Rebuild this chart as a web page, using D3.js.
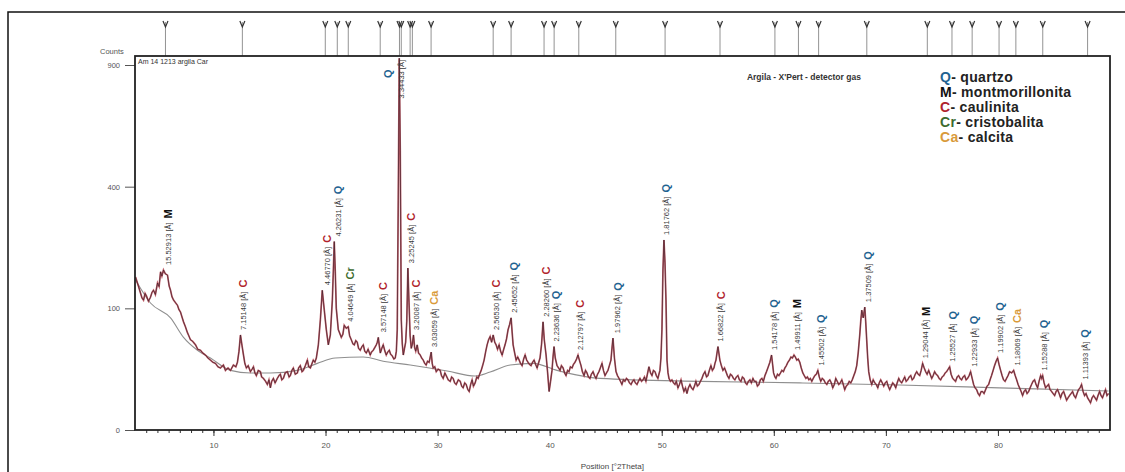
<!DOCTYPE html>
<html>
<head>
<meta charset="utf-8">
<script src="https://cdn.jsdelivr.net/npm/d3@7"></script>
<style>
  body { margin: 0; background: #fff; }
  text { font-family: "Liberation Sans", Arial, sans-serif; }
</style>
</head>
<body>
<div id="xrd"></div>
<script>
// measured scan, [position 2theta, counts]
const scan = [
  [3.05,158],[3.30,140],[3.49,127],[3.62,118],[3.76,114],[3.90,126],[4.03,121],[4.20,112],[4.38,119],[4.52,128],[4.65,132],[4.82,124],[5.01,146],[5.15,139],[5.28,169],[5.40,160],[5.54,173],[5.70,165],[5.90,162],[6.05,140],[6.17,132],[6.30,120],[6.44,114],[6.60,110],[6.79,105],[6.92,98],[7.06,94],[7.20,86],[7.33,79],[7.50,72],[7.68,64],[7.80,60],[7.95,55],[8.15,53],[8.40,49],[8.60,44],[8.84,43],[9.05,40],[9.29,38],[9.50,35],[9.73,33],[9.95,31],
  [10.18,30],[10.40,27],[10.62,26],[10.89,28.5],[11.07,24],[11.30,26],[11.52,24],[11.78,28.5],[12.00,27],[12.14,31],[12.28,42],[12.41,61],[12.55,48],[12.68,38],[12.80,30],[12.94,26],[13.10,28],[13.30,23],[13.45,25],[13.57,27],[13.70,22],[13.83,20],[14.00,24],[14.19,23],[14.30,19],[14.46,18],[14.65,16],[14.81,14],[14.95,17],[15.08,12],[15.20,16],[15.35,18],[15.50,15],[15.70,18],[15.85,20],[15.97,21],[16.10,17],[16.24,18],[16.40,22],[16.60,23],[16.75,19],[16.86,20],[17.00,24],[17.13,26],[17.30,21],[17.49,22],[17.60,26],[17.75,28],[17.90,23],[18.02,24],[18.20,28],[18.38,33],[18.50,27],[18.65,26],[18.80,30],[18.91,33],[19.05,31],[19.18,35],[19.36,49],[19.54,82],[19.71,132],[19.89,97],
  [20.07,68],[20.25,49],[20.43,61],[20.61,114],[20.70,173],[20.78,240],[20.87,170],[20.96,100],[21.14,68],[21.41,58],[21.55,62],[21.67,74],[21.85,70],[22.03,72],[22.15,60],[22.30,55],[22.45,50],[22.57,49],[22.70,54],[22.83,52],[22.95,45],[23.10,43],[23.25,47],[23.37,49],[23.50,42],[23.64,40],[23.80,44],[23.99,38],[24.10,41],[24.26,43],[24.40,46],[24.53,49],[24.62,52],[24.71,58],[24.80,48],[24.89,40],[25.02,45],[25.15,49],[25.30,42],[25.42,38],[25.55,41],[25.69,43],[25.80,39],[25.96,37],[26.10,34],[26.22,35],[26.32,42],[26.40,68],[26.49,357],[26.58,934],[26.67,529],[26.76,82],[26.85,50],[26.94,38],[27.05,45],[27.15,52],[27.25,80],[27.35,177],[27.45,110],[27.55,60],[27.65,45],[27.75,50],[27.85,61],[27.95,46],[28.05,42],[28.18,49],[28.30,40],[28.45,38],[28.58,35],[28.72,33],[28.85,30],[28.98,28.5],[29.10,32],[29.25,31],[29.43,41],[29.52,30],[29.61,26],[29.75,27],[29.88,23],
  [30.05,25],[30.23,24],[30.35,20],[30.50,18],[30.65,22],[30.77,20],[30.95,17],[31.13,16],[31.25,19],[31.39,18],[31.52,15],[31.66,14],[31.85,17],[32.02,16],[32.15,13],[32.28,12],[32.42,15],[32.55,14],[32.70,11],[32.82,10],[32.95,14],[33.08,17],[33.20,13],[33.35,15],[33.50,19],[33.62,18],[33.75,21],[33.89,24],[34.02,28],[34.15,33],[34.30,42],[34.42,49],[34.55,55],[34.69,59],[34.82,52],[34.96,61],[35.10,52],[35.22,49],[35.35,44],[35.49,49],[35.62,42],[35.76,38],[35.90,44],[36.02,49],[36.15,56],[36.29,68],[36.42,75],[36.56,85],[36.65,65],[36.74,49],[36.88,40],[37.01,33],[37.15,36],[37.28,33],[37.40,30],[37.54,28],[37.68,34],[37.81,38],[37.95,33],[38.07,31],[38.20,29],[38.34,28],[38.48,31],[38.61,33],[38.75,29],[38.88,26],[39.00,30],[39.14,35],[39.28,50],[39.41,79],[39.52,55],[39.68,38],[39.82,22],[39.95,10],
  [40.08,16],[40.21,24],[40.30,36],[40.39,47],[40.50,35],[40.66,28],[40.80,26],[40.93,24],[41.05,28],[41.20,26],[41.33,22],[41.46,20],[41.60,24],[41.73,23],[41.85,27],[42.00,26],[42.12,29],[42.26,31],[42.40,34],[42.53,38],[42.65,33],[42.80,28],[42.92,23],[43.07,20],[43.20,24],[43.33,22],[43.46,19],[43.60,18],[43.72,21],[43.87,23],[44.00,20],[44.14,18],[44.27,21],[44.40,23],[44.52,26],[44.67,30],[44.80,24],[44.94,20],[45.07,22],[45.20,24],[45.33,28],[45.47,33],[45.56,45],[45.65,57],[45.78,35],[45.92,23],[46.05,20],[46.19,18],[46.32,16],[46.45,14],[46.58,17],[46.72,16],[46.85,18],[46.99,17],[47.12,15],[47.26,14],[47.40,16],[47.52,17],[47.65,15],[47.79,14],[47.92,16],[48.06,18],[48.20,16],[48.33,17],[48.46,19],[48.59,16],[48.72,21],[48.86,27],[49.00,22],[49.13,20],[49.26,24],[49.40,23],[49.52,20],[49.66,18],[49.75,21],[49.84,24],[49.93,35],
  [50.02,68],[50.11,173],[50.20,244],[50.29,190],[50.38,114],[50.47,33],[50.56,22],[50.65,18],[50.78,16],[50.91,17],[51.05,15],[51.18,14],[51.30,16],[51.45,12],[51.58,14],[51.72,17],[51.85,13],[51.98,10],[52.12,12],[52.25,9],[52.38,12],[52.52,14],[52.65,12],[52.79,11],[52.92,13],[53.05,16],[53.18,13],[53.32,14],[53.45,16],[53.59,18],[53.72,21],[53.86,23],[54.00,19],[54.12,20],[54.25,24],[54.39,28],[54.52,24],[54.66,26],[54.75,30],[54.84,33],[54.93,40],[55.02,47],[55.10,40],[55.19,33],[55.32,28],[55.46,24],[55.60,26],[55.73,23],[55.86,20],[56.00,18],[56.13,21],[56.27,20],[56.40,18],[56.53,17],[56.66,19],[56.80,20],[56.93,17],[57.07,16],[57.20,19],[57.34,18],[57.47,15],[57.60,14],[57.74,16],[57.87,17],[58.00,15],[58.14,18],[58.27,16],[58.41,16],[58.54,13],[58.67,14],[58.80,17],[58.94,18],[59.07,16],[59.21,20],[59.35,23],[59.47,26],[59.65,31],[59.80,38],[59.98,22],
  [60.10,19],[60.19,18],[60.33,21],[60.46,20],[60.60,22],[60.72,24],[60.86,23],[60.99,26],[61.12,28],[61.26,31],[61.40,33],[61.53,36],[61.66,35],[61.80,38],[61.92,36],[62.05,33],[62.18,34],[62.32,31],[62.45,26],[62.59,22],[62.72,20],[62.86,18],[63.00,19],[63.13,17],[63.26,18],[63.39,16],[63.52,18],[63.66,20],[63.80,21],[63.93,24],[64.06,19],[64.19,16],[64.32,18],[64.46,17],[64.60,15],[64.73,14],[64.86,16],[65.00,17],[65.13,15],[65.26,12],[65.40,14],[65.53,18],[65.66,16],[65.80,14],[65.93,15],[66.07,17],[66.20,14],[66.33,11],[66.46,13],[66.60,14],[66.73,16],[66.87,15],[67.00,17],[67.14,20],[67.27,23],[67.40,28],[67.53,40],[67.67,61],[67.76,80],[67.85,97],[67.98,85],[68.12,102],[68.20,80],[68.29,55],[68.38,35],[68.47,23],[68.60,17],[68.74,14],[68.87,17],[69.01,15],[69.14,14],[69.28,12],[69.41,15],[69.54,17],[69.68,15],[69.81,13],[69.94,15],
  [70.08,16],[70.21,13],[70.34,11],[70.48,13],[70.61,15],[70.74,14],[70.88,12],[71.01,15],[71.15,18],[71.28,16],[71.41,15],[71.55,17],[71.68,19],[71.81,16],[71.95,17],[72.08,19],[72.22,20],[72.35,17],[72.48,18],[72.62,21],[72.75,23],[72.88,21],[73.02,20],[73.15,24],[73.28,30],[73.42,26],[73.55,23],[73.68,21],[73.82,24],[73.95,21],[74.09,18],[74.22,20],[74.35,23],[74.48,21],[74.62,20],[74.75,18],[74.89,17],[75.02,19],[75.16,20],[75.29,22],[75.42,23],[75.56,25],[75.69,27],[75.82,21],[75.96,18],[76.09,17],[76.22,16],[76.36,19],[76.49,20],[76.62,18],[76.76,17],[76.89,19],[77.03,20],[77.16,17],[77.29,18],[77.43,20],[77.56,23],[77.70,18],[77.83,14],[77.96,12],[78.10,11],[78.23,9],[78.36,8],[78.50,10],[78.63,10],[78.76,9],[78.90,11],[79.03,13],[79.17,14],[79.30,17],[79.43,20],[79.57,24],[79.70,28],[79.84,32],[79.97,35],
  [80.10,29],[80.24,24],[80.37,20],[80.50,17],[80.64,16],[80.77,18],[80.90,20],[81.04,23],[81.22,22],[81.40,24],[81.54,20],[81.67,17],[81.80,14],[81.93,12],[82.07,10],[82.20,8],[82.33,10],[82.47,11],[82.60,9],[82.74,10],[82.87,12],[83.00,14],[83.13,16],[83.27,17],[83.40,14],[83.54,12],[83.67,16],[83.81,20],[83.90,18],[83.99,20],[84.12,15],[84.25,12],[84.38,13],[84.52,14],[84.65,11],[84.79,10],[84.92,9],[85.06,8],[85.19,10],[85.32,11],[85.46,9],[85.59,7],[85.72,9],[85.86,10],[85.99,8],[86.13,6],[86.26,7],[86.39,8],[86.53,9],[86.66,10],[86.79,8],[86.93,7],[87.06,9],[87.19,11],[87.33,12],[87.46,14],[87.60,10],[87.73,8],[87.86,9],[88.00,7],[88.13,6],[88.26,5],[88.40,7],[88.53,8],[88.66,7],[88.80,6],[88.93,8],[89.07,10],[89.20,8],[89.33,7],[89.47,9],[89.60,11],[89.73,8],[89.87,9]
];

// fitted background, [2theta, counts]
const background = [
  [3.05,152],[4.38,109],[6.17,85],[7.33,58],[8.57,43],[9.73,35],[11.52,24],[13.30,22],[15.08,22],[17.49,24],[19.27,30],[20.87,35],[23.37,36],[25.15,32],[27.56,28.5],[30.86,23.5],[33.35,19.7],[34.69,22.7],[36.47,28.5],[38.52,30],[40.66,24],[44.49,18],[53.41,16],[62.32,15],[71.23,13.7],[80.12,12],[89.87,10.3]
];

// identified peaks: [2theta, phase, d-spacing]
const peaks = [
  [5.70,"M","15.52913"],[12.38,"C","7.15148"],[19.88,"C","4.46770"],[20.85,"Q","4.26231"],[21.95,"Cr","4.04649"],
  [24.90,"C","3.57148"],[26.64,"Q","3.34433"],[27.40,"C","3.25245"],[27.85,"C","3.20087"],[29.45,"Ca","3.03059"],
  [34.95,"C","2.56530"],[36.55,"Q","2.45652"],[39.45,"C","2.28260"],[40.30,"Q","2.23636"],[42.45,"C","2.12797"],
  [45.80,"Q","1.97962"],[50.15,"Q","1.81762"],[55.00,"C","1.66822"],[59.80,"Q","1.54178"],[61.85,"M","1.49911"],
  [63.95,"Q","1.45502"],[68.15,"Q","1.37509"],[73.30,"M","1.29044"],[75.70,"Q","1.25527"],[77.60,"Q","1.22933"],
  [79.95,"Q","1.19902"],[81.45,"Ca","1.18069"],[83.85,"Q","1.15288"],[87.50,"Q","1.11393"]
];

// reference pattern markers along the top
const refLines = [5.72,12.58,19.98,21.05,22.03,24.88,26.6,26.76,27.55,27.75,29.42,34.96,36.56,39.5,40.4,42.6,45.9,50.3,55.2,60.1,62.2,64.0,68.3,73.7,75.9,77.7,80.1,81.6,84.0,88.0];

const phaseCodes = ["Q","M","C","Cr","Ca"];
const phaseNames = ["quartzo","montmorillonita","caulinita","cristobalita","calcita"];

const xTicks = [10,20,30,40,50,60,70,80];
const yTicks = [0,100,400,900];

const phaseColor = {Q: "#1f6391", M: "#111111", C: "#b0222c", Cr: "#3d6b2e", Ca: "#d99a3a"};

const margin = {top: 56, right: 15, bottom: 42, left: 135};
const width = 1125 - margin.left - margin.right;
const height = 472 - margin.top - margin.bottom;

const svg = d3.select("#xrd")
  .append("svg")
  .attr("width", 1125)
  .attr("height", 472);

// outer frame
svg.append("path")
  .attr("d", "M8,472V12H1125")
  .attr("fill", "none")
  .attr("stroke", "#111")
  .attr("stroke-width", 1.5);

const g = svg.append("g")
  .attr("transform", "translate(" + margin.left + "," + margin.top + ")");

const x = d3.scaleLinear().domain([3, 90]).range([0, width]);
const y = d3.scaleSqrt().domain([0, 945]).range([height, 0]);

g.append("clipPath").attr("id", "plotclip")
  .append("rect").attr("width", width).attr("height", height);

// reference markers above the frame
const refs = g.selectAll(".ref").data(refLines).enter().append("g")
  .attr("transform", d => "translate(" + x(d) + ",0)");
refs.append("line")
  .attr("y1", -34).attr("y2", 0)
  .attr("stroke", "#777").attr("stroke-width", 0.8);
refs.append("path")
  .attr("d", "M-2.5,-35L0,-29L2.5,-35")
  .attr("fill", "none").attr("stroke", "#333").attr("stroke-width", 1.2);

//x-axis
g.append("g")
  .attr("transform", "translate(0," + height + ")")
  .call(d3.axisBottom(x).tickValues(d3.range(4, 90)).tickSize(3).tickFormat(""))
  .call(a => a.select(".domain").remove())
  .call(a => a.selectAll("line").attr("stroke", "#333"));

g.append("g")
  .attr("transform", "translate(0," + height + ")")
  .call(d3.axisBottom(x).tickValues(xTicks).tickSize(6).tickPadding(6))
  .call(a => a.select(".domain").remove())
  .call(a => a.selectAll("line").attr("stroke", "#333"))
  .call(a => a.selectAll("text").attr("font-size", 8).attr("fill", "#555"));

//y-axis
g.append("g")
  .call(d3.axisLeft(y).tickValues(yTicks).tickSize(10).tickPadding(5))
  .call(a => a.select(".domain").remove())
  .call(a => a.selectAll("line").attr("stroke", "#555"))
  .call(a => a.selectAll("text").attr("font-size", 7.5).attr("fill", "#555"));

svg.append("text")
  .attr("x", 100).attr("y", 54)
  .attr("font-size", 7.5).attr("fill", "#555")
  .text("Counts");

svg.append("text")
  .attr("x", margin.left + x(45.6)).attr("y", 469)
  .attr("text-anchor", "middle")
  .attr("font-size", 8).attr("fill", "#444")
  .text("Position [°2Theta]");

// background and scan
const line = d3.line().x(d => x(d[0])).y(d => y(d[1]));

g.append("path")
  .datum(background)
  .attr("fill", "none")
  .attr("stroke", "#8f8f8f")
  .attr("stroke-width", 1.1)
  .attr("d", d3.line().x(d => x(d[0])).y(d => y(d[1])).curve(d3.curveMonotoneX));

g.append("path")
  .datum(scan)
  .attr("clip-path", "url(#plotclip)")
  .attr("fill", "none")
  .attr("stroke", "#b3404c")
  .attr("stroke-width", 1.7)
  .attr("opacity", 0.85)
  .attr("d", line);

g.append("path")
  .datum(scan)
  .attr("clip-path", "url(#plotclip)")
  .attr("fill", "none")
  .attr("stroke", "#2d1a24")
  .attr("stroke-width", 0.7)
  .attr("opacity", 0.85)
  .attr("d", line);

// peak annotations
peaks.forEach(p => {
  const near = scan.filter(d => Math.abs(d[0] - p[0]) <= 0.2);
  const top = y(d3.max(near, d => d[1]));
  const px = x(p[0]) + 3;
  const lab = g.append("text")
    .attr("dy", "0.35em")
    .attr("font-size", 7.5)
    .attr("fill", "#3a3a3a")
    .text(p[2] + " [Å]");
  const len = lab.node().getComputedTextLength();
  let base = top - 5;
  let lx = px, ly;
  if (base - len - 18 < 0) {
    // peak runs off the top: label sits on the line, letter beside it
    base = len + 4;
    lab.attr("transform", "translate(" + (px - 2) + "," + base + ") rotate(-90)");
    lx = px - 15;
    ly = 22;
  } else {
    lab.attr("transform", "translate(" + px + "," + base + ") rotate(-90)");
    ly = base - len - 4;
  }
  g.append("text")
    .attr("transform", "translate(" + lx + "," + ly + ") rotate(-90)")
    .attr("dy", "0.35em")
    .attr("font-size", 11)
    .attr("font-weight", "bold")
    .attr("fill", phaseColor[p[1]])
    .text(p[1]);
});

// plot frame
g.append("rect")
  .attr("width", width).attr("height", height)
  .attr("fill", "none")
  .attr("stroke", "#222")
  .attr("stroke-width", 1.8);

g.append("text")
  .attr("x", 3).attr("y", 8)
  .attr("font-size", 7).attr("fill", "#333")
  .text("Am 14 1213 argila Car");

g.append("text")
  .attr("x", x(57.6)).attr("y", 24)
  .attr("font-size", 8.5).attr("font-weight", "bold").attr("fill", "#333")
  .text("Argila - X'Pert - detector gas");

// legend
const legend = svg.append("g")
  .attr("transform", "translate(940,82)");
phaseCodes.forEach((c, i) => {
  const t = legend.append("text")
    .attr("y", i * 15)
    .attr("font-family", "'Open Sans', sans-serif")
    .attr("font-size", 14)
    .attr("font-weight", 600)
    .attr("letter-spacing", 0.3)
    .attr("fill", "#222");
  t.append("tspan").attr("fill", phaseColor[c]).text(c);
  t.append("tspan").text("- " + phaseNames[i]);
});
</script>
</body>
</html>
